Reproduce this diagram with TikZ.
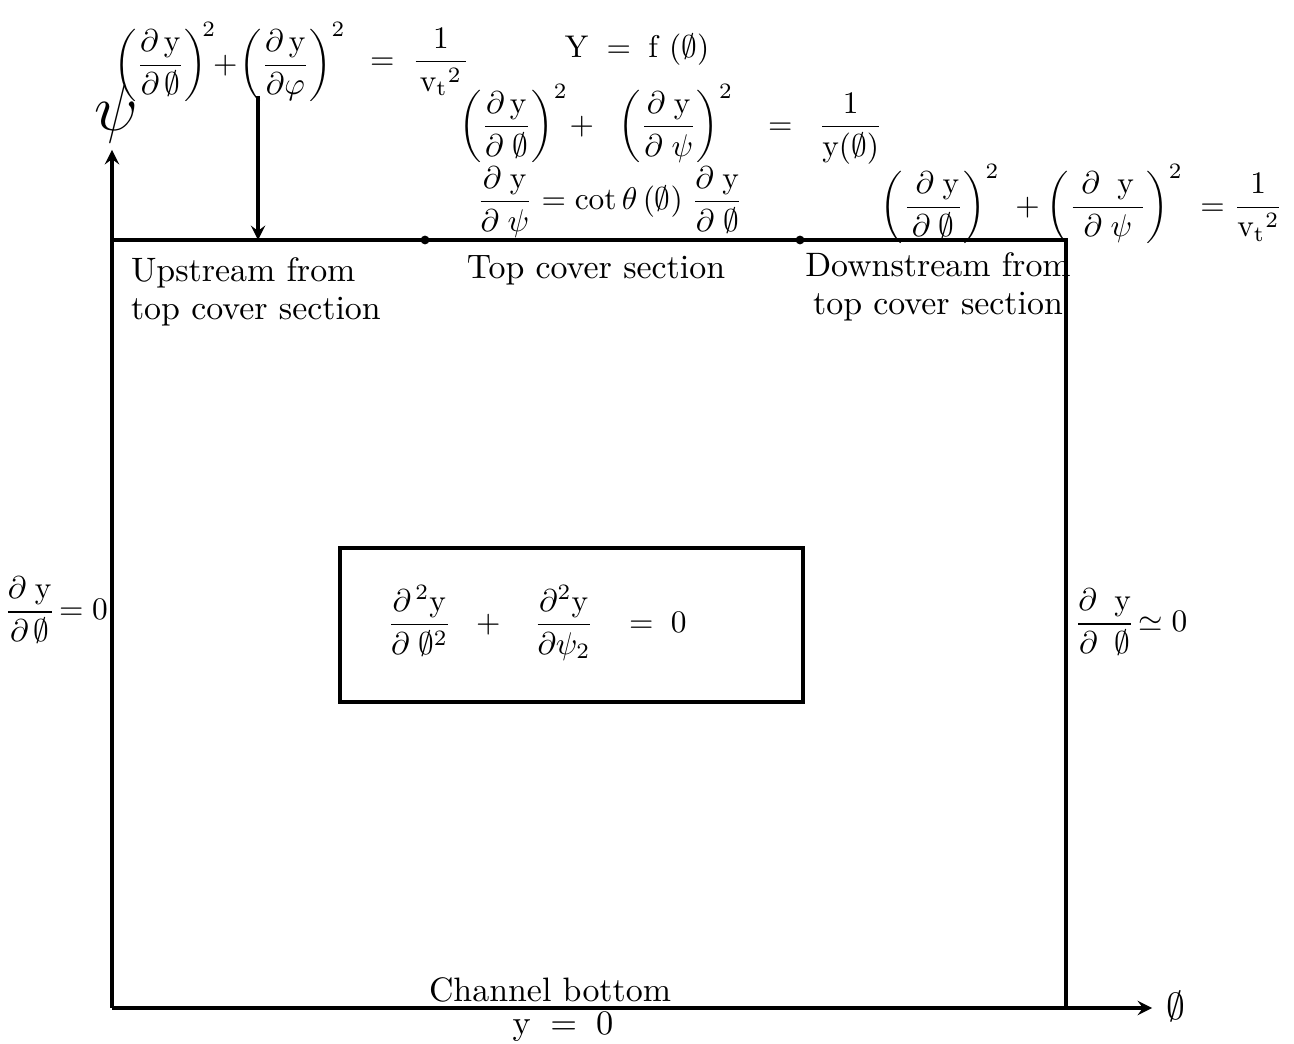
\documentclass[tikz,border=0pt]{standalone}
\usepackage{amsmath,amssymb}
\begin{document}
\begin{tikzpicture}[x=0.0112cm, y=-0.0112cm, >=stealth, line width=1pt,
    every node/.style={font=\fontsize{10.8}{12}\selectfont},
    eqn/.style={font=\fontsize{9.6}{11}\selectfont}]
  \useasboundingbox (0,0) rectangle (1294,1044);

  % Corners of the channel
  \coordinate (O) at (112,1008);
  \coordinate (A) at (112,240);
  \coordinate (B) at (1066,240);
  \coordinate (C) at (1066,1008);

  % Axes
  \coordinate (Yend) at (112,150);
  \coordinate (Xend) at (1152,1008);
  \draw[->] (O) -- (Yend);
  \draw[->] (O) -- (Xend);
  \node[font=\huge] (psi) at (116,114) {$\psi$};
  \node[font=\large] (phi) at (1176,1006) {$\emptyset$};

  % Top cover and outflow boundary
  \draw (A) -- (B) -- (C);

  % Section limits
  \coordinate (S1) at (425,240);
  \coordinate (S2) at (800,240);
  \fill (S1) circle (1.4pt);
  \fill (S2) circle (1.4pt);

  % Arrow from free surface condition
  \coordinate (Qs) at (258,96);
  \coordinate (Q) at (258,240);
  \draw[->] (Qs) -- (Q);

  % Section labels
  \node[align=left, anchor=west] (up) at (119,292) {Upstream from\\ top cover section};
  \node (top) at (596,270) {Top cover section};
  \node[align=center] (down) at (938,287) {Downstream from\\ top cover section};

  % Boundary conditions on the top
  \node[eqn] (eqa) at (230,62) {$\left(\dfrac{\partial\,\mathrm{y}}{\partial\,\emptyset}\right)^{\!2}\!\!+\!\left(\dfrac{\partial\,\mathrm{y}}{\partial\varphi}\right)^{2}$};
  \node[eqn] (eqb) at (420,62) {$=\;\dfrac{\;\;1\;\;}{{\mathrm{v}_\mathrm{t}}^2}$};
  \node[eqn] (eqc) at (637,50) {$\mathrm{Y} \;=\; \mathrm{f}\;(\emptyset)$};
  \node[eqn] (eqd) at (671,124) {$\left(\dfrac{\partial\,\mathrm{y}}{\partial\;\emptyset}\right)^{2}\!+\;\;\left(\dfrac{\partial\;\mathrm{y}}{\partial\;\psi}\right)^{2}\;\;\;=\;\;\dfrac{1}{\mathrm{y}(\emptyset)}$};
  \node[eqn] (eqe) at (610,202) {$\dfrac{\partial\;\mathrm{y}}{\partial\;\psi} = \cot\theta\,(\emptyset)\;\dfrac{\partial\;\mathrm{y}}{\partial\;\emptyset}$};
  \node[eqn] (eqf) at (1082,204) {$\left(\dfrac{\;\partial\;\mathrm{y}}{\partial\;\emptyset}\right)^{2}\;+\left(\dfrac{\;\partial\;\;\mathrm{y}\;}{\partial\;\psi}\right)^{2}\;=\dfrac{1}{{\mathrm{v}_\mathrm{t}}^2}$};

  % Side conditions
  \node[eqn] (left) at (56,610) {$\dfrac{\partial\;\mathrm{y}}{\partial\,\emptyset}\!=0$};
  \node[eqn] (right) at (1131,622) {$\dfrac{\partial\;\;\mathrm{y}}{\partial\;\;\emptyset}\!\simeq 0$};

  % Field equation
  \draw (340,548) rectangle (803,702);
  \node[eqn] (pde) at (537,623) {$\dfrac{\partial^{\,2}\mathrm{y}}{\partial\;\emptyset^{2}}\;\;+\;\;\;\dfrac{\partial^{2}\mathrm{y}}{\partial\psi_{2}}\;\;\;=\;0$};

  % Channel bottom
  \node (bot) at (550,990) {Channel bottom};
  \node (bc) at (563,1027) {$\mathrm{y}\;=\;0$};
\end{tikzpicture}
\end{document}
